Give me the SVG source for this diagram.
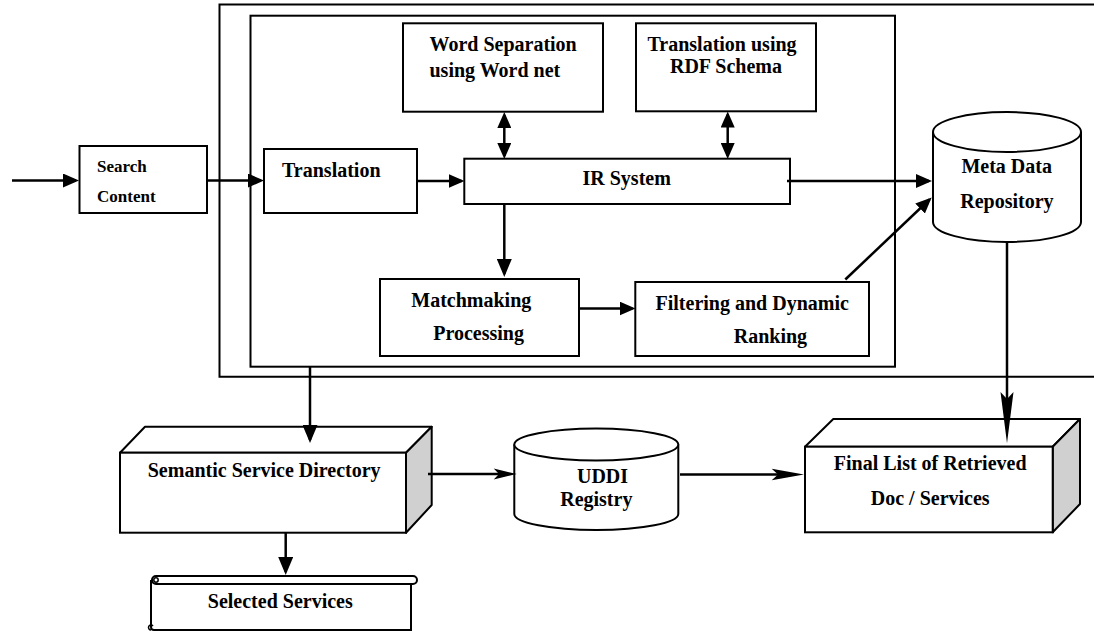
<svg xmlns="http://www.w3.org/2000/svg" width="1094" height="631" viewBox="0 0 1094 631">
<style>
.box{fill:#fff;stroke:#000;stroke-width:2}
.side{fill:#d0d0d0;stroke:#000;stroke-width:2;stroke-linejoin:round}
.t{font-family:"Liberation Serif","Times New Roman",serif;font-weight:bold;font-size:20px;fill:#000}
.s{font-size:17px}
.c{stroke:#000;stroke-width:2.5;fill:none}
.ah{fill:#000;stroke:none}
</style>
<defs>
<marker id="tri" viewBox="0 0 16 14" refX="13" refY="7" markerWidth="16" markerHeight="14" markerUnits="userSpaceOnUse" orient="auto-start-reverse">
<path d="M0,0 L16,7 L0,14 z" fill="#000"/>
</marker>
<marker id="tri2" viewBox="0 0 18 15" refX="15" refY="7.5" markerWidth="18" markerHeight="15" markerUnits="userSpaceOnUse" orient="auto-start-reverse">
<path d="M0,0 L18,7.5 L0,15 z" fill="#000"/>
</marker>
</defs>
<rect width="1094" height="631" fill="#fff"/>

<g id="outer-frame">
<path d="M1100,4.5 L219.5,4.5 L219.5,376.7 L1100,376.7" fill="none" stroke="#000" stroke-width="2"/>
</g>
<g id="inner-frame">
<rect x="250.5" y="15.7" width="644.5" height="351" fill="none" stroke="#000" stroke-width="2"/>
</g>

<g id="search-content">
<rect class="box" x="79.5" y="146" width="127.5" height="67"/>
<text class="t s" x="97" y="171.5">Search</text>
<text class="t s" x="97" y="201.5">Content</text>
</g>

<g id="translation">
<rect class="box" x="264" y="149" width="153" height="64"/>
<text class="t" x="282" y="177">Translation</text>
</g>

<g id="word-separation">
<rect class="box" x="403" y="23.3" width="200" height="88.4"/>
<text class="t" x="429.5" y="50.7">Word Separation</text>
<text class="t" x="429.5" y="76.7">using Word net</text>
</g>

<g id="rdf-schema">
<rect class="box" x="636" y="23.3" width="180" height="88"/>
<text class="t" x="722" y="50.7" text-anchor="middle">Translation using</text>
<text class="t" x="726" y="72.7" text-anchor="middle">RDF Schema</text>
</g>

<g id="ir-system">
<rect class="box" x="464.3" y="158.7" width="325.7" height="45.3"/>
<text class="t" x="626.7" y="185.3" text-anchor="middle">IR System</text>
</g>

<g id="matchmaking">
<rect class="box" x="380" y="279" width="199" height="77"/>
<text class="t" x="471.3" y="306.7" text-anchor="middle">Matchmaking</text>
<text class="t" x="478.6" y="340" text-anchor="middle">Processing</text>
</g>

<g id="filtering">
<rect class="box" x="635.3" y="282" width="233.7" height="74"/>
<text class="t" x="752.2" y="310" text-anchor="middle">Filtering and Dynamic</text>
<text class="t" x="770.4" y="343.3" text-anchor="middle">Ranking</text>
</g>

<g id="meta-data-repository">
<path class="box" d="M933,132 L933,222 A74,20 0 0 0 1081,222 L1081,132"/>
<ellipse class="box" cx="1007" cy="132" rx="74" ry="20"/>
<text class="t" x="1006.7" y="173.3" text-anchor="middle">Meta Data</text>
<text class="t" x="1006.9" y="208.3" text-anchor="middle">Repository</text>
</g>

<g id="semantic-service-directory">
<polygon class="box" points="120,452.7 145,426.7 431.7,426.7 406,452.7" stroke-linejoin="round"/>
<polygon class="side" points="406,452.7 431.7,426.7 431.7,505 406,532.7"/>
<rect class="box" x="120" y="452.7" width="286" height="80"/>
<text class="t" x="264.2" y="477.3" text-anchor="middle">Semantic Service Directory</text>
</g>

<g id="uddi-registry">
<path class="box" d="M514.3,444.5 L514.3,514 A82,16 0 0 0 678.3,514 L678.3,444.5"/>
<ellipse class="box" cx="596.3" cy="444.5" rx="82" ry="16"/>
<text class="t" x="602.5" y="483.3" text-anchor="middle">UDDI</text>
<text class="t" x="596.3" y="506" text-anchor="middle">Registry</text>
</g>

<g id="final-list">
<polygon class="box" points="805,446.7 833.3,419 1080,419 1052.7,446.7" stroke-linejoin="round"/>
<polygon class="side" points="1052.7,446.7 1080,419 1080,504 1052.7,532.3"/>
<rect class="box" x="805" y="446.7" width="247.7" height="85.6"/>
<text class="t" x="930.2" y="470" text-anchor="middle">Final List of Retrieved</text>
<text class="t" x="930.2" y="505" text-anchor="middle">Doc / Services</text>
</g>

<g id="selected-services">
<path class="box" d="M151,580 L151,627 Q151,630 154,630 L411,630 L411,584"/>
<rect class="box" x="152" y="576" width="265" height="8" rx="4"/>
<circle cx="156" cy="580" r="2.2" fill="none" stroke="#000" stroke-width="1.5"/>
<path d="M153,626 a2.5,2.5 0 1 0 -2,4" fill="none" stroke="#000" stroke-width="1.5"/>
<text class="t" x="280.3" y="608.3" text-anchor="middle">Selected Services</text>
</g>

<g id="connectors">
<line class="c" x1="12" y1="180.5" x2="76" y2="180.5" marker-end="url(#tri)"/>
<line class="c" x1="207" y1="180.5" x2="261" y2="180.5" marker-end="url(#tri)"/>
<line class="c" x1="417" y1="181" x2="461.5" y2="181" marker-end="url(#tri)"/>
<line class="c" x1="504.3" y1="115" x2="504.3" y2="156" marker-start="url(#tri)" marker-end="url(#tri)"/>
<line class="c" x1="727.7" y1="114.5" x2="727.7" y2="156" marker-start="url(#tri)" marker-end="url(#tri)"/>
<line class="c" x1="787" y1="181" x2="929" y2="181" marker-end="url(#tri)"/>
<line class="c" x1="504.3" y1="204" x2="504.3" y2="274" marker-end="url(#tri2)"/>
<line class="c" x1="579" y1="308.5" x2="632.5" y2="308.5" marker-end="url(#tri)"/>
<line class="c" x1="845.3" y1="279.5" x2="929.5" y2="199.5" marker-end="url(#tri)"/>
<line class="c" x1="310" y1="367" x2="310" y2="440" marker-end="url(#tri2)"/>
<line class="c" x1="285.7" y1="533" x2="285.7" y2="572" marker-end="url(#tri2)"/>
<line class="c" x1="428" y1="474" x2="500" y2="474"/>
<path class="ah" d="M493.7,468.5 L516.7,474 L493.7,479.5 L499,474 z"/>
<line class="c" x1="680" y1="474.5" x2="780" y2="474.5"/>
<path class="ah" d="M771.7,468.7 L804,474.5 L771.7,480.3 L778,474.5 z"/>
<line class="c" x1="1007" y1="242" x2="1007" y2="400" stroke-width="3"/>
<path class="ah" d="M1000.5,392 L1007,443.3 L1013.5,392 L1007,399 z"/>
</g>
</svg>
